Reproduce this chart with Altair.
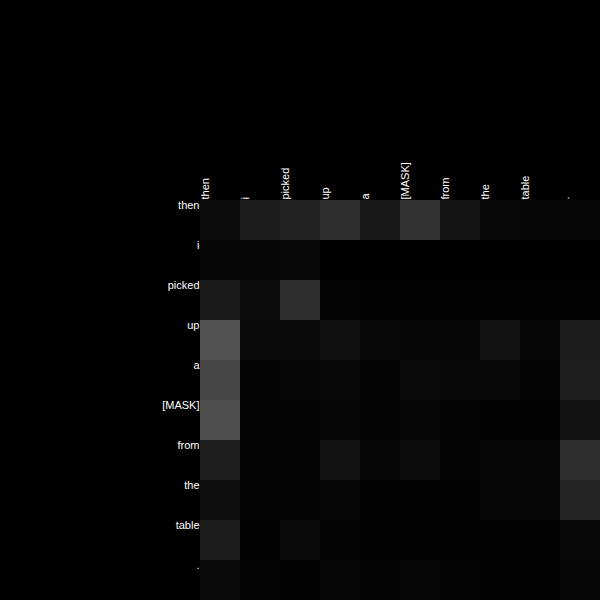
import altair as alt
import pandas as pd

tokens = ["then", "i", "picked", "up", "a", "[MASK]", "from", "the", "table", "."]

# attention weights (row = query token, column = key token), read from grey levels
w_then   = [0.047, 0.110, 0.133, 0.180, 0.094, 0.196, 0.078, 0.031, 0.024, 0.024]
w_i      = [0.024, 0.024, 0.031, 0.004, 0.004, 0.004, 0.004, 0.004, 0.004, 0.004]
w_picked = [0.102, 0.047, 0.180, 0.016, 0.008, 0.008, 0.008, 0.008, 0.008, 0.008]
w_up     = [0.325, 0.039, 0.039, 0.063, 0.031, 0.024, 0.020, 0.071, 0.024, 0.110]
w_a      = [0.275, 0.016, 0.024, 0.031, 0.016, 0.039, 0.031, 0.031, 0.016, 0.118]
w_mask   = [0.306, 0.016, 0.016, 0.020, 0.016, 0.024, 0.016, 0.012, 0.012, 0.071]
w_from   = [0.118, 0.016, 0.016, 0.071, 0.024, 0.047, 0.016, 0.020, 0.020, 0.180]
w_the    = [0.055, 0.016, 0.016, 0.024, 0.012, 0.012, 0.012, 0.024, 0.024, 0.137]
w_table  = [0.110, 0.012, 0.043, 0.016, 0.012, 0.012, 0.012, 0.012, 0.012, 0.031]
w_dot    = [0.039, 0.016, 0.012, 0.024, 0.016, 0.020, 0.016, 0.012, 0.012, 0.020]

matrix = [w_then, w_i, w_picked, w_up, w_a, w_mask, w_from, w_the, w_table, w_dot]

rows = []
for qi, q in enumerate(tokens):
    for ki, k in enumerate(tokens):
        rows.append({"query": q, "key": k, "weight": matrix[qi][ki]})
df = pd.DataFrame(rows)

chart = alt.Chart(df).mark_rect().encode(
    x=alt.X("key:N", sort=tokens, title=None,
            scale=alt.Scale(paddingInner=0, paddingOuter=0),
            axis=alt.Axis(orient="top", labelAngle=-90, labelOffset=-20,
                          labelAlign="left", labelBaseline="top",
                          labelPadding=1, ticks=False, domain=False,
                          labelColor="white", labelFont="Liberation Sans",
                          labelFontSize=11)),
    y=alt.Y("query:N", sort=tokens, title=None,
            scale=alt.Scale(paddingInner=0, paddingOuter=0),
            axis=alt.Axis(orient="left", labelOffset=-20, labelAlign="right",
                          labelBaseline="top", labelPadding=1, ticks=False,
                          domain=False, labelColor="white",
                          labelFont="Liberation Sans", labelFontSize=11)),
    color=alt.Color("weight:Q", legend=None,
                    scale=alt.Scale(domain=[0, 1], range=["#000000", "#ffffff"],
                                    interpolate="rgb")),
).properties(
    width=400, height=400,
    background="black",
    autosize=alt.AutoSizeParams(type="none"),
    padding={"left": 200, "top": 200, "right": 0, "bottom": 0},
).configure_view(stroke=None)

chart.save("out.html", embed_options={"renderer": "svg", "actions": False})
